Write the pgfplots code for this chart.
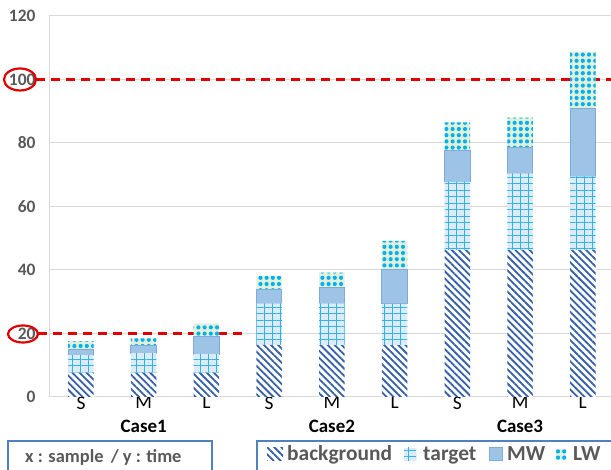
\documentclass[border=0pt]{standalone}
\usepackage{pgfplots}
\usepackage{pgfplotstable}
\pgfplotsset{compat=1.18}
\usetikzlibrary{patterns.meta}
\usepackage{fontspec}
\setmainfont{Carlito}

\definecolor{bgblue}{HTML}{3560A8}
\definecolor{tgline}{HTML}{2EB4E6}
\definecolor{tgfill}{HTML}{DDEBF7}
\definecolor{mwfill}{HTML}{9DC3E6}
\definecolor{mwedge}{HTML}{7FA9DB}
\definecolor{lwdot}{HTML}{00B0F0}
\definecolor{lwfill}{HTML}{E2F0D9}
\definecolor{gridgray}{HTML}{D9D9D9}
\definecolor{ticklbl}{HTML}{595959}
\definecolor{boxblue}{HTML}{4F81BD}
\definecolor{refred}{HTML}{E00000}

\tikzset{
  bgpat/.style={fill=white, draw=none,
    postaction={pattern={Lines[angle=-45,distance=5bp,line width=1.8bp]}, pattern color=bgblue}},
  tgpat/.style={fill=tgfill, draw=none,
    postaction={pattern={Lines[angle=0,distance=6.5bp,line width=1bp]}, pattern color=tgline},
    postaction={pattern={Lines[angle=90,distance=8bp,line width=1bp]}, pattern color=tgline}},
  mwpat/.style={fill=mwfill, draw=mwedge, line width=1bp},
  lwpat/.style={fill=lwfill, draw=none,
    postaction={pattern={Dots[distance=6.2bp,radius=2.1bp]}, pattern color=lwdot}},
  caselbl/.style={anchor=base, font=\fontsize{19}{19}\bfseries\selectfont},
  leglbl/.style={anchor=base west, inner sep=0, text=ticklbl, font=\fontsize{21.5}{21.5}\bfseries\selectfont},
}

% stacked parts: background, target, MW, LW
\pgfplotstableread{
x bg tg mw lw
0 7.7 5.5 1.9 2.5
1 7.7 6.1 2.3 2.4
2 7.7 5.8 5.5 4.2
3 16.4 13.1 4.2 4.4
4 16.3 13.2 5.0 4.7
5 16.3 13.0 10.9 9.0
6 46.3 21.5 9.8 8.9
7 46.3 24.1 8.3 9.3
8 46.3 23.2 21.4 17.9
}\datatable

\begin{document}
\begin{tikzpicture}[x=1bp,y=1bp]
\useasboundingbox (0,0) rectangle (611,470);
\begin{axis}[
  at={(49bp,73bp)}, anchor=south west,
  scale only axis, width=562bp, height=381bp,
  ybar stacked, bar width=25.5bp,
  xmin=-0.51, xmax=8.45, ymin=0, ymax=120,
  ytick={0,20,...,120},
  xtick=data, xticklabels={S,M,L,S,M,L,S,M,L},
  major tick length=0pt,
  axis lines*=left,
  axis line style={draw=gridgray, line width=1bp},
  x axis line style={draw=none},
  ymajorgrids, grid style={draw=gridgray, line width=1bp},
  /pgf/number format/assume math mode=true,
  yticklabel style={font=\fontsize{17.5}{17.5}\bfseries\selectfont, text=ticklbl, xshift=-10bp},
  xticklabel style={font=\fontsize{19.5}{19.5}\selectfont, text=black, yshift=4bp},
  clip=false,
]
\addplot[bgpat] table[x=x,y=bg]{\datatable};
\addplot[tgpat] table[x=x,y=tg]{\datatable};
\addplot[mwpat] table[x=x,y=mw]{\datatable};
\addplot[lwpat] table[x=x,y=lw]{\datatable};

\draw[refred, line width=2.5bp, dash pattern=on 9bp off 6bp] (axis cs:-0.72,100) -- (axis cs:8.45,100);
\draw[refred, line width=2.5bp, dash pattern=on 9bp off 6bp] (axis cs:-0.68,20) -- (axis cs:2.57,20);

\node[caselbl] at ([yshift=-36bp]axis cs:1,0) {Case1};
\node[caselbl] at ([yshift=-36bp]axis cs:4,0) {Case2};
\node[caselbl] at ([yshift=-36bp]axis cs:7,0) {Case3};
\end{axis}

% circled reference ticks
\draw[refred, line width=2.2bp] (20,390.5) ellipse [x radius=16, y radius=11];
\draw[refred, line width=2.2bp] (23,136) ellipse [x radius=15, y radius=8.5];

% note box
\draw[boxblue, line width=1.5bp] (8,29) rectangle (212,-6);
\node[leglbl, font=\fontsize{18.5}{18.5}\bfseries\selectfont] at (25,7) {x : sample \,/ y : time};

% legend box
\draw[boxblue, line width=1.5bp] (257,29) rectangle (620,-6);
\path[bgpat] (267,9) rectangle (283,22);
\node[leglbl] at (287,9) {background};
\path[tgpat] (404,9) rectangle (416,22);
\node[leglbl] at (423,9) {target};
\path[mwpat] (489,9) rectangle (502,22);
\node[leglbl] at (507,9) {MW};
\path[lwpat] (556,10) rectangle (566,21);
\node[leglbl] at (573,9) {LW};
\end{tikzpicture}
\end{document}
